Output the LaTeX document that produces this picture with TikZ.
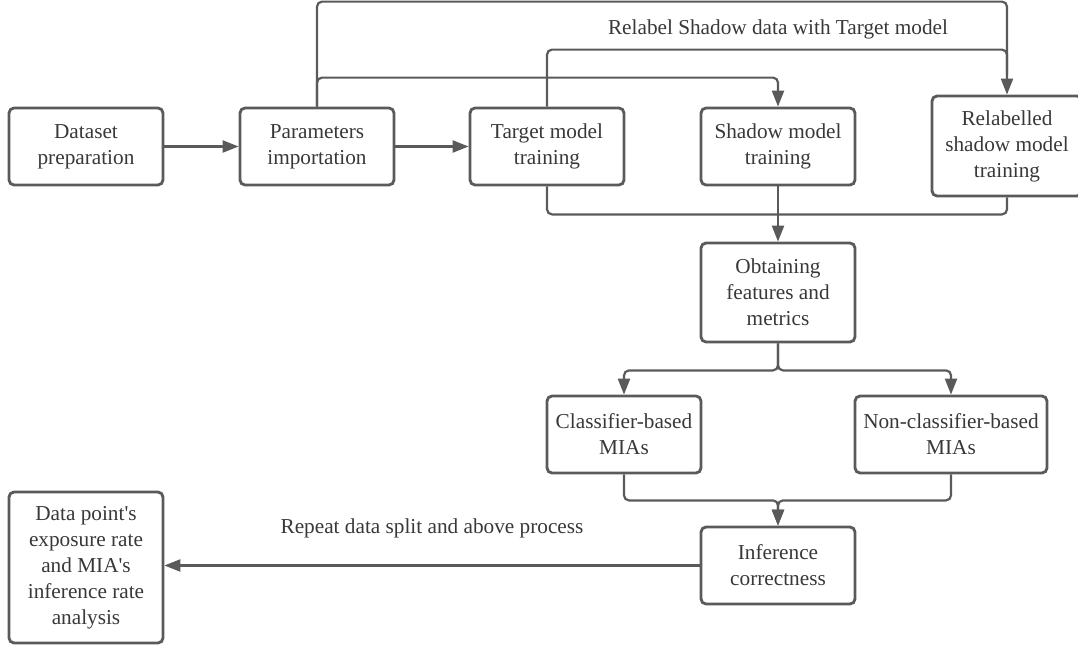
\documentclass[tikz,border=0pt]{standalone}
\usepackage{fontspec}
\setmainfont{Liberation Serif}
\usepackage{tikz}
\usetikzlibrary{arrows.meta}
\definecolor{linegray}{HTML}{5A5A5A}
\definecolor{textgray}{HTML}{383838}
\tikzset{
  procbox/.style={draw=linegray, line width=1.6pt, rounded corners=0.1cm, align=center,
    minimum width=3.08cm, minimum height=1.54cm, inner sep=0pt, text=textgray},
  flowline/.style={draw=linegray, line width=1.25pt, rounded corners=0.1cm},
  flowarrow/.style={flowline, -{Triangle[length=3.2mm,width=2.4mm]}}
}
\begin{document}
\begin{tikzpicture}[x=0.02cm, y=-0.02cm, font=\fontsize{12.1}{14.8}\selectfont]
              \useasboundingbox (0,0) rectangle (1078,646);
              % top row
              \node[procbox] (data) at (86,146.5) {Dataset\\preparation};
              \node[procbox] (param) at (317,146.5) {Parameters\\importation};
              \node[procbox] (target) at (547,146.5) {Target model\\training};
              \node[procbox] (shadow) at (778,146.5) {Shadow model\\training};
              \node[procbox, minimum width=3.0cm, minimum height=2.0cm] (relabel) at (1007,146) {Relabelled\\shadow model\\training};
              \node[text=textgray] (relabeltxt) at (778,29) {Relabel Shadow data with Target model};
              % middle
              \node[procbox, minimum height=1.98cm] (obtain) at (778,292.5) {Obtaining\\features and\\metrics};
              \node[procbox] (clf) at (624,434.5) {Classifier-based\\MIAs};
              \node[procbox, minimum width=3.84cm] (nonclf) at (951,434.5) {Non-classifier-based\\MIAs};
              % bottom
              \node[procbox] (infer) at (778,565.5) {Inference\\correctness};
              \node[procbox, minimum height=3.02cm] (report) at (86,567.5) {Data point\textquotesingle s\\exposure rate\\and MIA\textquotesingle s\\inference rate\\analysis};
              % connectors
              \draw[flowarrow] (data) -- (param);
              \draw[flowarrow] (param) -- (target);
              \draw[flowarrow] (param.north) -- ++(0,-105) -| (relabel.north);
              \draw[flowarrow] (param.north) -- ++(0,-29) -| (shadow.north);
              \draw[flowline] (target.north) -- ++(0,-57) -| ([yshift=0.4cm]relabel.north);
              \draw[flowline] (target.south) -- ++(0,28) -| (relabel.south);
              \draw[flowarrow] (shadow.south) -- (obtain.north);
              \draw[flowarrow] (obtain.south) -- ++(0,27) -| (clf.north);
              \draw[flowarrow] (obtain.south) -- ++(0,27) -| (nonclf.north);
              \draw[flowarrow] (clf.south) -- ++(0,26) -| (infer.north);
              \draw[flowarrow] (nonclf.south) -- ++(0,26) -| (infer.north);
              \draw[flowarrow] (infer.west) -- (infer.west -| report.east)
                node[midway, above=0.42cm, text=textgray] (repeattxt) {Repeat data split and above process};
            \end{tikzpicture}
\end{document}
